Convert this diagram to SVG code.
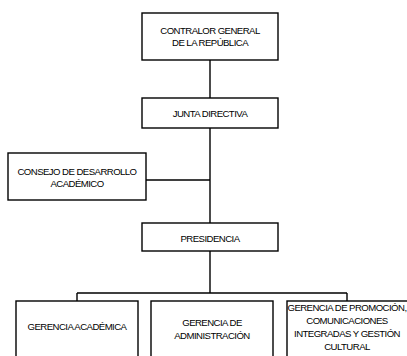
<svg xmlns="http://www.w3.org/2000/svg" width="407" height="356" viewBox="0 0 407 356">
<style>
.box{fill:#fff;stroke:#000;stroke-width:1.4}
.lbl{font-family:"Liberation Sans",Arial,sans-serif;font-size:9.6px;letter-spacing:-0.55px;fill:#000;text-anchor:middle}
.con{fill:none;stroke:#000;stroke-width:1.4}
</style>
<rect width="407" height="356" fill="#fff"/>
<g id="connectors">
<path class="con" d="M210 60V98M210 128V223M146 180H210M210 251V293M77 293H347M77 293V301M347 293V301"/>
</g>
<g id="contralor">
<rect class="box" x="142" y="13" width="136" height="47"/>
<text class="lbl" x="210" y="33.5">CONTRALOR GENERAL</text>
<text class="lbl" x="210" y="45.5">DE LA REPÚBLICA</text>
</g>
<g id="junta">
<rect class="box" x="142" y="98" width="136" height="30"/>
<text class="lbl" x="210" y="117">JUNTA DIRECTIVA</text>
</g>
<g id="consejo">
<rect class="box" x="8" y="153" width="138" height="47"/>
<text class="lbl" x="77" y="175">CONSEJO DE DESARROLLO</text>
<text class="lbl" x="77" y="187">ACADÉMICO</text>
</g>
<g id="presidencia">
<rect class="box" x="142" y="223" width="136" height="28"/>
<text class="lbl" x="210" y="242">PRESIDENCIA</text>
</g>
<g id="academica">
<rect class="box" x="16" y="301" width="122" height="70"/>
<text class="lbl" x="77" y="330">GERENCIA ACADÉMICA</text>
</g>
<g id="administracion">
<rect class="box" x="151" y="301" width="122" height="70"/>
<text class="lbl" x="212" y="326">GERENCIA DE</text>
<text class="lbl" x="212" y="339">ADMINISTRACIÓN</text>
</g>
<g id="promocion">
<rect class="box" x="287" y="301" width="122" height="70"/>
<text class="lbl" x="347" y="310.5">GERENCIA DE PROMOCIÓN,</text>
<text class="lbl" x="347" y="323.5">COMUNICACIONES</text>
<text class="lbl" x="347" y="336.5">INTEGRADAS Y GESTIÓN</text>
<text class="lbl" x="347" y="349.5">CULTURAL</text>
</g>
</svg>
